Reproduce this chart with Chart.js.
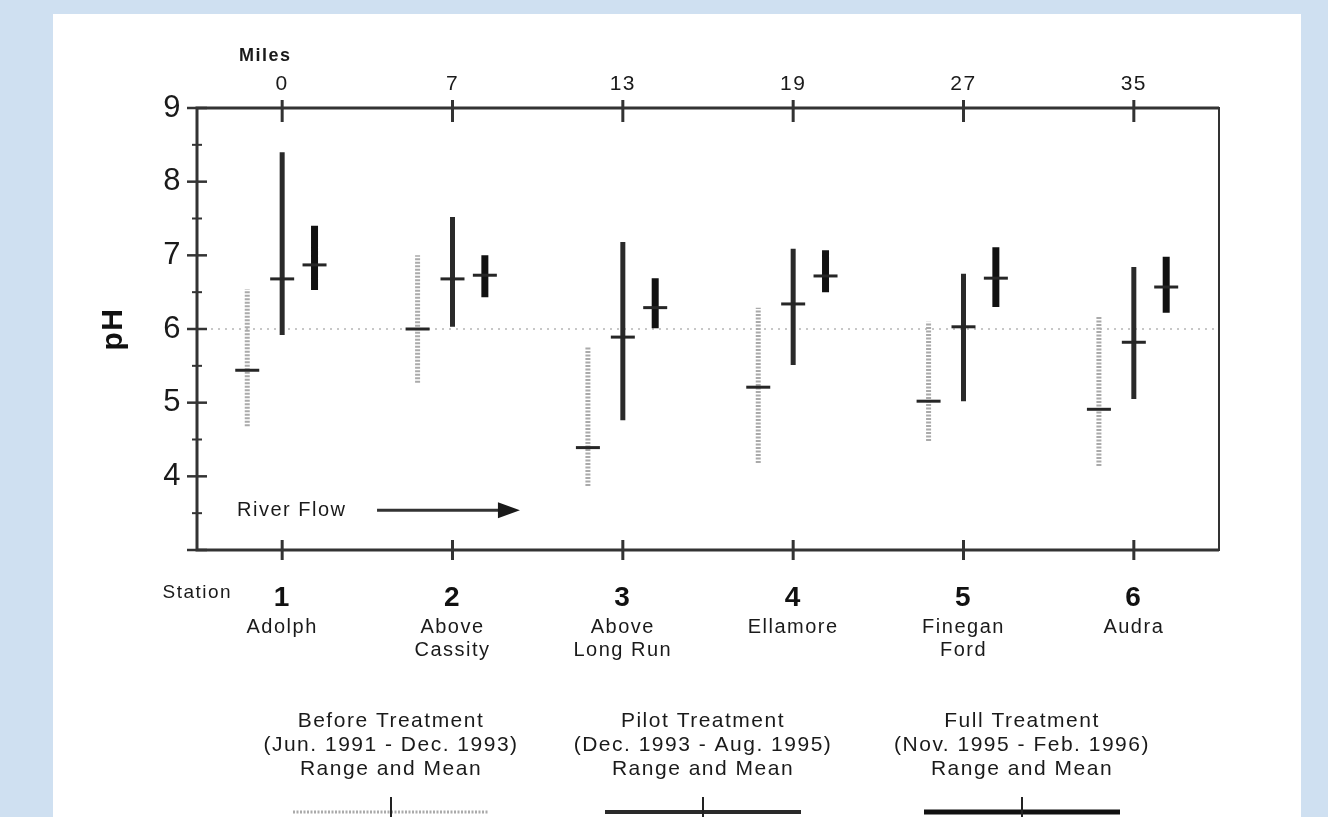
<!DOCTYPE html>
<html>
<head>
<meta charset="utf-8">
<title>pH by station</title>
<script src="https://cdn.jsdelivr.net/npm/chart.js@4.4.1/dist/chart.umd.min.js"></script>
<style>
  html, body { margin: 0; padding: 0; }
  body { width: 1328px; height: 817px; background: #cfe0f1; position: relative; overflow: hidden; }
  #panel { position: absolute; left: 53px; top: 14px; width: 1248px; height: 803px; background: #fff; }
  #chart { position: absolute; left: 0; top: 0; }
</style>
</head>
<body>
<div id="panel"></div>
<canvas id="chart" width="1328" height="817"></canvas>
<script>
// stations along the river, upstream to downstream
const stations = [1, 2, 3, 4, 5, 6];
const stationLabels = ['1', '2', '3', '4', '5', '6'];
const stationNames = [['Adolph'], ['Above', 'Cassity'], ['Above', 'Long Run'], ['Ellamore'], ['Finegan', 'Ford'], ['Audra']];
const milesLabels = ['0', '7', '13', '19', '27', '35'];

// pH range and mean for each treatment period
const beforeMin = [4.68, 5.27, 3.87, 4.18, 4.48, 4.14];
const beforeMax = [6.54, 7.00, 5.76, 6.29, 6.10, 6.18];
const beforeMean = [5.44, 6.00, 4.39, 5.21, 5.02, 4.91];

const pilotMin = [5.92, 6.03, 4.76, 5.51, 5.02, 5.05];
const pilotMax = [8.40, 7.52, 7.18, 7.09, 6.75, 6.84];
const pilotMean = [6.68, 6.68, 5.89, 6.34, 6.03, 5.82];

const fullMin = [6.53, 6.43, 6.01, 6.50, 6.30, 6.22];
const fullMax = [7.40, 7.00, 6.69, 7.07, 7.11, 6.98];
const fullMean = [6.87, 6.73, 6.29, 6.72, 6.69, 6.57];

const periodTitles = [
    ['Before Treatment', '(Jun. 1991 - Dec. 1993)', 'Range and Mean'],
    ['Pilot Treatment', '(Dec. 1993 - Aug. 1995)', 'Range and Mean'],
    ['Full Treatment', '(Nov. 1995 - Feb. 1996)', 'Range and Mean']
];

const referencePH = 6;
const xMin = 0.5, xMax = 6.5;

// before / pilot / full bars sit side by side around each station
const periodOffsets = [-0.205, 0, 0.19];
const fontFamily = "'Liberation Sans', Arial, Helvetica, sans-serif";

function rangePoints(offset, mins, maxs) {
    const pts = [];
    stations.forEach((s, i) => {
        pts.push({ x: s + offset, y: mins[i] });
        pts.push({ x: s + offset, y: maxs[i] });
        pts.push({ x: s + offset, y: null }); // break between stations
    });
    return pts;
}

function meanPoints(offset, means) {
    return stations.map((s, i) => ({ x: s + offset, y: means[i] }));
}

const rangeStyles = [
    { color: '#aaaaaa', width: 5, dash: [2, 1.5], legendWidth: 3 },
    { color: '#2a2a2a', width: 5, dash: [], legendWidth: 4 },
    { color: '#111111', width: 7, dash: [], legendWidth: 5 }
];
const ranges = [[beforeMin, beforeMax, beforeMean], [pilotMin, pilotMax, pilotMean], [fullMin, fullMax, fullMean]];

const datasets = [{
    label: 'pH 6',
    data: [{ x: xMin, y: referencePH }, { x: xMax, y: referencePH }],
    borderColor: '#b5b5b5',
    borderWidth: 1.5,
    borderDash: [2, 5],
    pointRadius: 0,
    order: 10
}];

ranges.forEach(([mins, maxs, means], i) => {
    const st = rangeStyles[i];
    datasets.push({
        label: periodTitles[i][0] + ' range',
        data: rangePoints(periodOffsets[i], mins, maxs),
        borderColor: st.color,
        borderWidth: st.width,
        borderDash: st.dash,
        borderCapStyle: 'butt',
        spanGaps: false,
        pointRadius: 0,
        order: 5
    });
    datasets.push({
        label: periodTitles[i][0] + ' mean',
        data: meanPoints(periodOffsets[i], means),
        showLine: false,
        pointStyle: 'line',
        pointRadius: 12,
        pointBorderWidth: 3,
        pointBorderColor: '#262626',
        order: 1
    });
});

function stationTicks(scale) {
    scale.ticks = stations.map(v => ({ value: v }));
}

const hiddenGrid = { display: false, drawTicks: false };

// frame, crossing tick marks, annotations and the legend underneath
const decorations = {
    id: 'decorations',
    beforeDraw(chart) {
        chart.ctx.letterSpacing = '1.5px';
    },
    afterDraw(chart) {
        const { ctx, chartArea: a, scales } = chart;
        const x = scales.x, y = scales.y;
        ctx.save();
        ctx.strokeStyle = '#333';
        ctx.fillStyle = '#1a1a1a';
        ctx.lineCap = 'butt';

        // frame
        ctx.lineWidth = 3;
        ctx.beginPath();
        ctx.moveTo(a.right, a.top); ctx.lineTo(a.left, a.top); ctx.lineTo(a.left, a.bottom); ctx.lineTo(a.right, a.bottom);
        ctx.stroke();
        ctx.lineWidth = 2;
        ctx.beginPath();
        ctx.moveTo(a.right, a.top - 1); ctx.lineTo(a.right, a.bottom + 1);
        ctx.stroke();

        // y ticks across the left axis
        y.ticks.forEach(t => {
            const py = y.getPixelForValue(t.value);
            const major = Number.isInteger(t.value);
            const half = major ? 10 : 5;
            ctx.lineWidth = major ? 2.5 : 2;
            ctx.beginPath();
            ctx.moveTo(a.left - half, py); ctx.lineTo(a.left + half, py);
            ctx.stroke();
        });

        // station ticks on top and bottom
        ctx.lineWidth = 3;
        stations.forEach(s => {
            const px = x.getPixelForValue(s);
            ctx.beginPath();
            ctx.moveTo(px, a.top - 8); ctx.lineTo(px, a.top + 14);
            ctx.moveTo(px, a.bottom - 10); ctx.lineTo(px, a.bottom + 10);
            ctx.stroke();
        });

        ctx.textBaseline = 'middle';
        ctx.textAlign = 'center';
        ctx.font = 'bold 18px ' + fontFamily;
        ctx.fillText('Miles', x.getPixelForValue(stations[0]) - 17, a.top - 52);

        ctx.textAlign = 'right';
        ctx.font = '19px ' + fontFamily;
        ctx.fillText('Station', x.getPixelForValue(stations[0]) - 50, a.bottom + 43);

        // River Flow arrow
        const fy = y.getPixelForValue(3.54);
        ctx.textAlign = 'left';
        ctx.font = '20px ' + fontFamily;
        ctx.fillText('River Flow', x.getPixelForValue(0.735), fy);
        const ax0 = x.getPixelForValue(1.557), ax1 = x.getPixelForValue(2.396);
        ctx.lineWidth = 3;
        ctx.beginPath();
        ctx.moveTo(ax0, fy); ctx.lineTo(ax1 - 18, fy);
        ctx.stroke();
        ctx.beginPath();
        ctx.moveTo(ax1, fy); ctx.lineTo(ax1 - 22, fy - 8); ctx.lineTo(ax1 - 22, fy + 8);
        ctx.closePath();
        ctx.fill();

        // legend
        const legendCenters = [391, 703, 1022];
        ctx.textAlign = 'center';
        ctx.font = '21px ' + fontFamily;
        periodTitles.forEach((lines, i) => {
            const cx = legendCenters[i];
            lines.forEach((txt, k) => ctx.fillText(txt, cx, 721 + k * 24));
            const st = rangeStyles[i];
            ctx.strokeStyle = st.color;
            ctx.lineWidth = st.legendWidth;
            ctx.setLineDash(st.dash);
            ctx.beginPath();
            ctx.moveTo(cx - 98, 812); ctx.lineTo(cx + 98, 812);
            ctx.stroke();
            ctx.setLineDash([]);
            ctx.strokeStyle = '#222';
            ctx.lineWidth = 2;
            ctx.beginPath();
            ctx.moveTo(cx, 797); ctx.lineTo(cx, 817);
            ctx.stroke();
        });
        ctx.restore();
    }
};

new Chart(document.getElementById('chart'), {
    type: 'line',
    data: { datasets: datasets },
    options: {
        responsive: false,
        animation: false,
        layout: { padding: { left: 0, top: 0, right: 109, bottom: 97 } },
        plugins: { legend: { display: false }, tooltip: { enabled: false } },
        scales: {
            x: {
                type: 'linear', axis: 'x', position: 'bottom', weight: 0,
                min: xMin, max: xMax,
                afterBuildTicks: stationTicks,
                afterFit: s => { s.height = 60; },
                grid: hiddenGrid, border: { display: false },
                ticks: {
                    autoSkip: false, maxRotation: 0, padding: 31, color: '#111',
                    font: { family: fontFamily, size: 28, weight: 'bold' },
                    callback: (v, i) => stationLabels[i]
                }
            },
            xn: {
                type: 'linear', axis: 'x', position: 'bottom', weight: 1,
                min: xMin, max: xMax,
                afterBuildTicks: stationTicks,
                afterFit: s => { s.height = 110; },
                grid: hiddenGrid, border: { display: false },
                ticks: {
                    autoSkip: false, maxRotation: 0, padding: 6, color: '#1a1a1a',
                    font: { family: fontFamily, size: 20, lineHeight: 1.15 },
                    callback: (v, i) => stationNames[i]
                }
            },
            x2: {
                type: 'linear', axis: 'x', position: 'top',
                min: xMin, max: xMax,
                afterBuildTicks: stationTicks,
                afterFit: s => { s.height = 108; },
                grid: hiddenGrid, border: { display: false },
                ticks: {
                    autoSkip: false, maxRotation: 0, padding: 11, color: '#1a1a1a',
                    font: { family: fontFamily, size: 21 },
                    callback: (v, i) => milesLabels[i]
                }
            },
            y: {
                type: 'linear', position: 'left', min: 3, max: 9,
                afterFit: s => { s.width = 197; },
                grid: hiddenGrid, border: { display: false },
                ticks: {
                    stepSize: 0.5, autoSkip: false, padding: 15, color: '#1a1a1a',
                    font: { family: fontFamily, size: 31 },
                    callback: v => (Number.isInteger(v) && v > 3) ? v : ''
                },
                title: {
                    display: true, text: 'pH', color: '#111',
                    font: { family: fontFamily, size: 30, weight: 'bold' },
                    padding: { top: 96, bottom: 0 }
                }
            }
        }
    },
    plugins: [decorations]
});
</script>
</body>
</html>
